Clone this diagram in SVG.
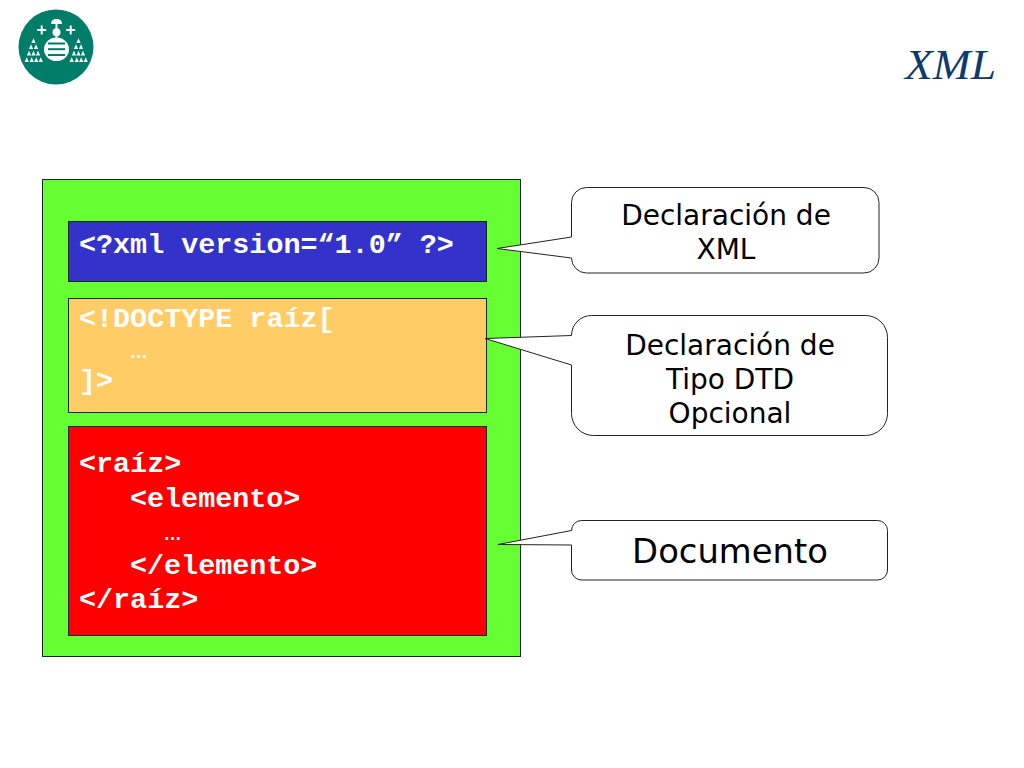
<svg xmlns="http://www.w3.org/2000/svg" width="1024" height="768" viewBox="0 0 1024 768">
<style>
.box{stroke:#1a2a1a;stroke-width:1}
.code{font-family:"Liberation Mono",monospace;font-weight:700;font-size:28.4px;fill:#fff}
.dots{font-family:"Liberation Mono",monospace;font-weight:400;font-size:28.4px;fill:#fff}
.call{fill:#fff;stroke:#222;stroke-width:1}
.lab{font-family:"DejaVu Sans",sans-serif;font-size:28px;fill:#000;text-anchor:middle}
.w{fill:#fff}
</style>
<defs>
<path id="t" d="M0-4.800L2.100 0H-2.100Z" class="w"/>
<path id="c" d="M-1-4.500H1V-1H4.500V1H1V4.500H-1V1H-4.500V-1H-1Z" class="w"/>
</defs>
<rect width="1024" height="768" fill="#fff"/>
<g id="logo">
<circle cx="56" cy="47" r="37.500" fill="#007d69"/>
<ellipse cx="56.500" cy="49.300" rx="12.500" ry="11.800" class="w"/>
<g fill="#007d69"><rect x="48" y="42.500" width="17" height="2"/><rect x="48" y="48.200" width="17" height="2"/><rect x="48" y="54" width="17" height="2"/></g>
<path d="M51 24Q51 19 56.500 19Q62 19 62 24Z" class="w"/>
<rect x="55.500" y="24" width="2" height="15" class="w"/>
<circle cx="56.500" cy="32.300" r="4" class="w"/>
<use href="#c" x="41.700" y="30"/><use href="#c" x="70.700" y="30"/>
<use href="#t" x="33.500" y="43"/><use href="#t" x="31" y="49"/><use href="#t" x="36" y="49"/><use href="#t" x="29" y="55.500"/><use href="#t" x="33.500" y="55.500"/><use href="#t" x="38" y="55.500"/><use href="#t" x="26.700" y="62"/><use href="#t" x="31.700" y="62"/><use href="#t" x="36.200" y="62"/><use href="#t" x="40.700" y="62"/>
<use href="#t" x="78.500" y="43"/><use href="#t" x="76" y="49"/><use href="#t" x="81" y="49"/><use href="#t" x="74" y="55.500"/><use href="#t" x="78.500" y="55.500"/><use href="#t" x="83" y="55.500"/><use href="#t" x="71.700" y="62"/><use href="#t" x="76.700" y="62"/><use href="#t" x="81.200" y="62"/><use href="#t" x="85.700" y="62"/>
</g>
<g id="title"><text x="905" y="79" font-family="'Liberation Serif',serif" font-style="italic" font-size="42" fill="#0f3a6e" textLength="91" lengthAdjust="spacingAndGlyphs">XML</text></g>
<g id="frame"><rect x="42.500" y="179.500" width="478" height="477" fill="#66ff33" class="box"/></g>
<g id="xml-decl">
<rect x="68.500" y="221.500" width="418" height="60" fill="#3333cc" class="box"/>
<text x="79" y="253" class="code">&lt;?xml version=“1.0” ?&gt;</text>
</g>
<g id="doctype">
<rect x="68.500" y="298.500" width="418" height="114" fill="#ffcc66" class="box"/>
<text x="79" y="327" class="code">&lt;!DOCTYPE raíz[</text>
<text x="130" y="358" class="dots">…</text>
<text x="79" y="389" class="code">]&gt;</text>
</g>
<g id="document">
<rect x="68.500" y="426.500" width="418" height="209" fill="#ff0000" class="box"/>
<text x="79" y="472" class="code">&lt;raíz&gt;</text>
<text x="130" y="507" class="code">&lt;elemento&gt;</text>
<text x="164" y="540" class="dots">…</text>
<text x="130" y="574" class="code">&lt;/elemento&gt;</text>
<text x="79" y="608" class="code">&lt;/raíz&gt;</text>
</g>
<g id="connectors"></g>
<g id="callout-xml">
<path class="call" d="M586.500 187.500H864a15 15 0 0 1 15 15V258a15 15 0 0 1-15 15H586.500a15 15 0 0 1-15-15L497 248.500L571.500 237V202.500a15 15 0 0 1 15-15Z"/>
<text x="726" y="225" class="lab">Declaración de</text>
<text x="726" y="259" class="lab">XML</text>
</g>
<g id="callout-dtd">
<path class="call" d="M591.500 315.500H865.500a22 22 0 0 1 22 22V413.500a22 22 0 0 1-22 22H593.500a22 22 0 0 1-22-22V365L485 338.500L571.500 335.500a20 20 0 0 1 20-20Z"/>
<text x="730" y="355" class="lab">Declaración de</text>
<text x="730" y="389" class="lab">Tipo DTD</text>
<text x="730" y="423" class="lab">Opcional</text>
</g>
<g id="callout-doc">
<path class="call" d="M581.500 520.500H877.500a10 10 0 0 1 10 10V570a10 10 0 0 1-10 10H581.500a10 10 0 0 1-10-10V545L498 544.500L571.500 530.500a10 10 0 0 1 10-10Z"/>
<text x="730" y="563" class="lab" style="font-size:33.800px">Documento</text>
</g>
</svg>
